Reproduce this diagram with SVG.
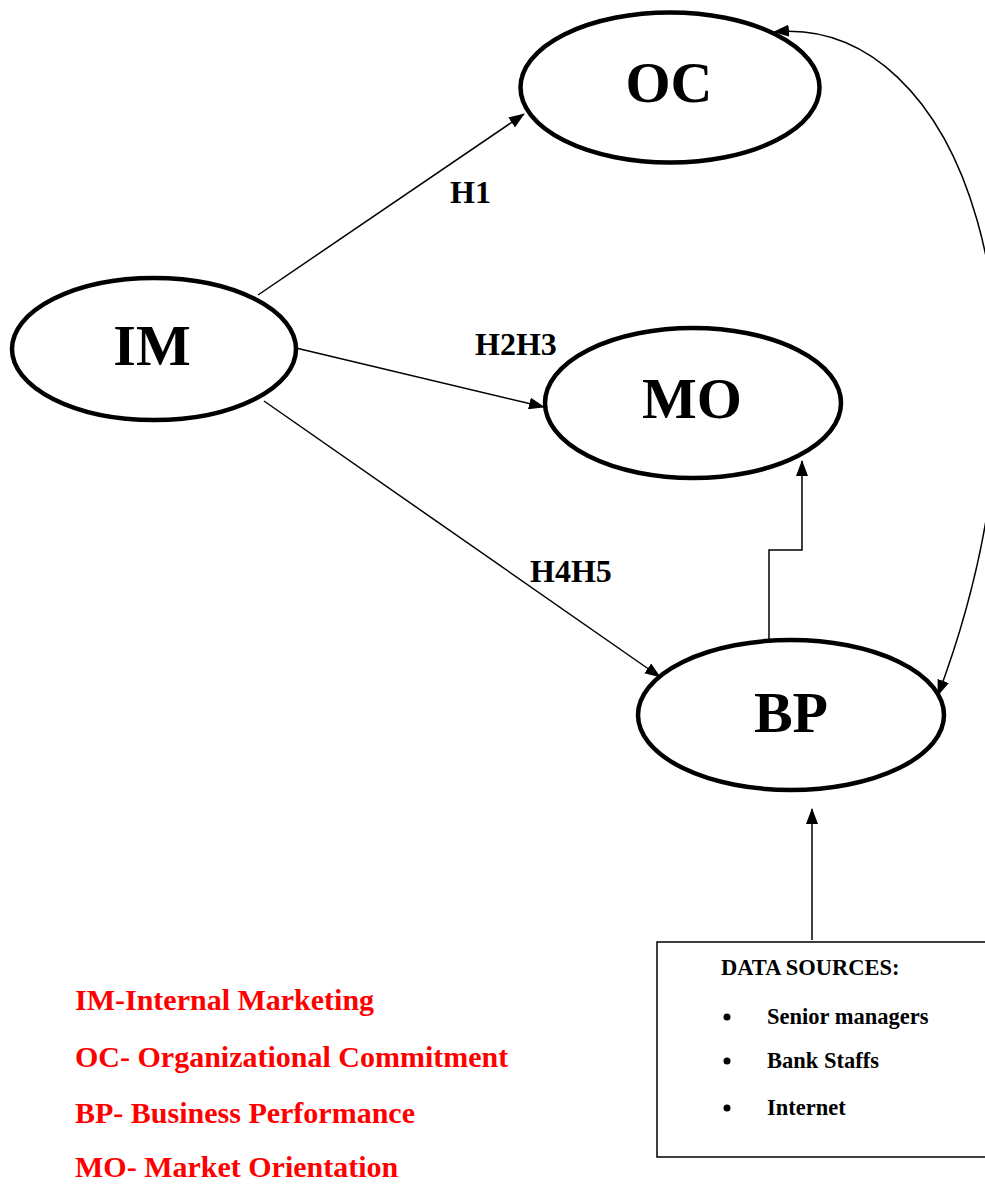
<svg xmlns="http://www.w3.org/2000/svg" width="985" height="1184" viewBox="0 0 985 1184">
<style>
.node{fill:#fff;stroke:#000;stroke-width:4.5}
.big{font-family:"Liberation Serif",serif;font-weight:bold;font-size:58px;fill:#000;text-anchor:middle}
.hl{font-family:"Liberation Serif",serif;font-weight:bold;font-size:32px;fill:#000}
.leg{font-family:"Liberation Serif",serif;font-weight:bold;font-size:30px;fill:#ff0000}
.ds{font-family:"Liberation Serif",serif;font-weight:bold;font-size:22.5px;fill:#000}
.edge{fill:none;stroke:#000;stroke-width:1.5}
</style>
<defs>
<marker id="arr" markerUnits="userSpaceOnUse" markerWidth="16" markerHeight="12" refX="15" refY="6" orient="auto">
<path d="M0,0 L16,6 L0,12 Z" fill="#000"/>
</marker>
<marker id="arrs" markerUnits="userSpaceOnUse" markerWidth="16" markerHeight="12" refX="15" refY="6" orient="auto-start-reverse">
<path d="M0,0 L16,6 L0,12 Z" fill="#000"/>
</marker>
</defs>
<g id="connectors">
<line class="edge" x1="258" y1="295" x2="524" y2="114" marker-end="url(#arr)"/>
<line class="edge" x1="296" y1="348" x2="544" y2="407" marker-end="url(#arr)"/>
<line class="edge" x1="264" y1="401" x2="660" y2="677" marker-end="url(#arr)"/>
<polyline class="edge" points="769,641 769,550 802,550 802,461" marker-end="url(#arr)"/>
<line class="edge" x1="812" y1="940" x2="812" y2="809" marker-end="url(#arr)"/>
<path class="edge" d="M774,32 C960,15 1075,330 938,695" marker-start="url(#arrs)" marker-end="url(#arr)"/>
</g>
<g id="node-OC"><ellipse class="node" cx="670" cy="87.5" rx="149.5" ry="75"/><text class="big" x="669" y="102">OC</text></g>
<g id="node-IM"><ellipse class="node" cx="154" cy="349" rx="142" ry="71"/><text class="big" x="152" y="365">IM</text></g>
<g id="node-MO"><ellipse class="node" cx="693" cy="403" rx="148" ry="75"/><text class="big" x="692" y="418">MO</text></g>
<g id="node-BP"><ellipse class="node" cx="791" cy="715" rx="153" ry="75"/><text class="big" x="791" y="732">BP</text></g>
<g id="labels">
<text class="hl" x="450" y="203">H1</text>
<text class="hl" x="475" y="355">H2H3</text>
<text class="hl" x="530" y="582">H4H5</text>
</g>
<g id="node-data">
<rect x="657" y="942" width="340" height="215" fill="#fff" stroke="#000" stroke-width="1.5"/>
<text class="ds" x="721" y="975">DATA SOURCES:</text>
<circle cx="727" cy="1017" r="3.5" fill="#000"/>
<text class="ds" x="767" y="1024">Senior managers</text>
<circle cx="727" cy="1061" r="3.5" fill="#000"/>
<text class="ds" x="767" y="1068">Bank Staffs</text>
<circle cx="727" cy="1108" r="3.5" fill="#000"/>
<text class="ds" x="767" y="1115">Internet</text>
</g>
<g id="legend">
<text class="leg" x="75" y="1010">IM-Internal Marketing</text>
<text class="leg" x="75" y="1067">OC- Organizational Commitment</text>
<text class="leg" x="75" y="1123">BP- Business Performance</text>
<text class="leg" x="75" y="1177">MO- Market Orientation</text>
</g>
</svg>
